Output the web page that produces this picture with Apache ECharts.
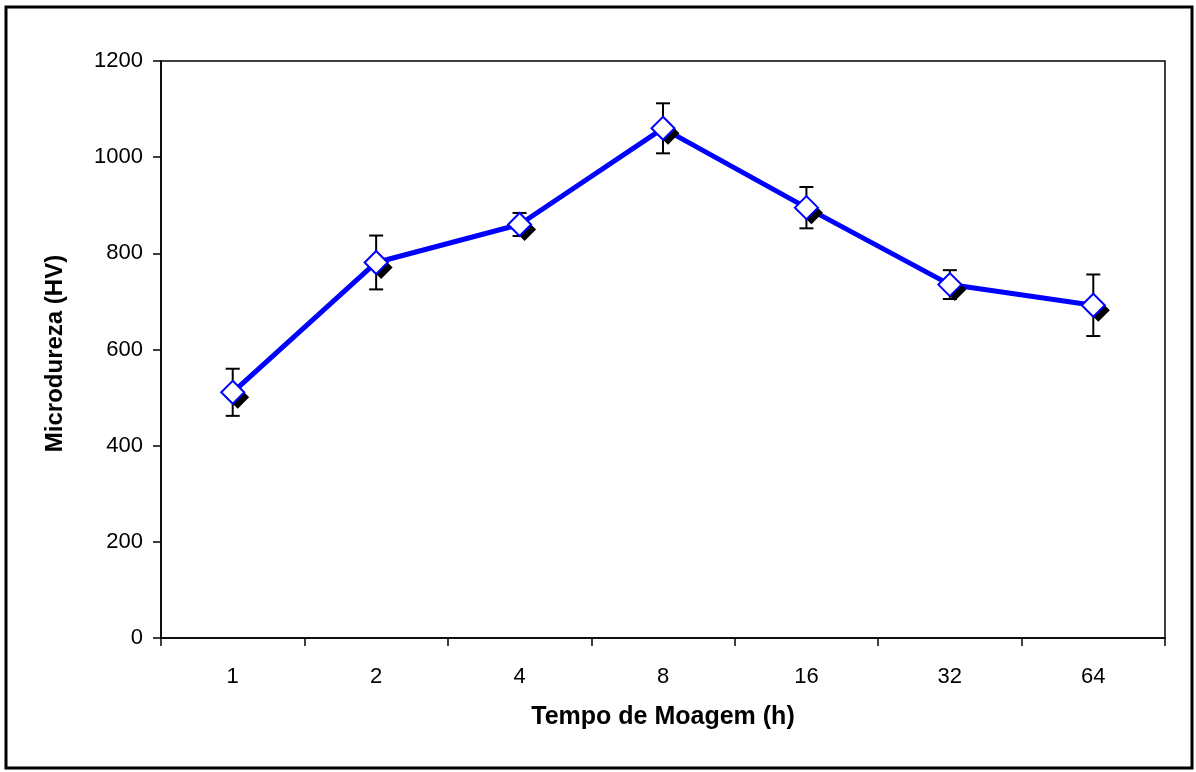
<!DOCTYPE html>
<html>
<head>
<meta charset="utf-8">
<script src="https://cdn.jsdelivr.net/npm/echarts@6/dist/echarts.min.js"></script>
<style>
  html, body { margin: 0; padding: 0; background: #fff; }
  #chart { width: 1196px; height: 772px; }
</style>
</head>
<body>
<div id="chart"></div>
<script>
// Milling time (h) and Vickers microhardness with standard deviation
const tempos = ['1', '2', '4', '8', '16', '32', '64'];
const microdureza = [511, 781, 860, 1060, 895, 735, 692];
const desvio = [49, 56, 24, 52, 43, 30, 64];
const yTicks = [0, 200, 400, 600, 800, 1000, 1200];

const errorData = tempos.map((t, i) => [i, microdureza[i] - desvio[i], microdureza[i] + desvio[i]]);

const chart = echarts.init(document.getElementById('chart'), null, { renderer: 'canvas' });

const font = '"Liberation Sans", Arial, sans-serif';

chart.setOption({
  animation: false,
  backgroundColor: '#fff',
  grid: { left: 161, right: 31, top: 61, bottom: 134, show: true, borderColor: '#000', borderWidth: 1.5, backgroundColor: 'transparent' },
  graphic: [{
    type: 'rect',
    shape: { x: 6, y: 7, width: 1186, height: 761 },
    style: { fill: 'none', stroke: '#000', lineWidth: 3 },
    silent: true
  }],
  xAxis: {
    type: 'category',
    data: tempos,
    boundaryGap: true,
    name: 'Tempo de Moagem (h)',
    nameLocation: 'middle',
    nameGap: 67,
    nameTextStyle: { fontFamily: font, fontSize: 25, fontWeight: 'bold', color: '#000' },
    axisLine: { lineStyle: { color: '#000', width: 1.5 } },
    axisTick: { show: true, length: 8, inside: false, lineStyle: { color: '#000', width: 1.5 } },
    axisLabel: { fontFamily: font, fontSize: 22, color: '#000', margin: 28 },
    splitLine: { show: false }
  },
  yAxis: {
    type: 'value',
    min: yTicks[0],
    max: yTicks[yTicks.length - 1],
    interval: yTicks[1] - yTicks[0],
    name: 'Microdureza (HV)',
    nameLocation: 'middle',
    nameGap: 94,
    nameRotate: 90,
    nameTextStyle: { fontFamily: font, fontSize: 24, fontWeight: 'bold', color: '#000', padding: [0, 8, 0, 0] },
    axisLine: { show: true, lineStyle: { color: '#000', width: 1.5 } },
    axisTick: { show: true, length: 8, inside: false, lineStyle: { color: '#000', width: 1.5 } },
    axisLabel: { fontFamily: font, fontSize: 22, color: '#000', margin: 18, formatter: v => String(v) },
    splitLine: { show: false }
  },
  series: [
    {
      // standard deviation bars
      type: 'custom',
      z: 1,
      data: errorData,
      renderItem: function (params, api) {
        const x = api.value(0);
        const lo = api.coord([x, api.value(1)]);
        const hi = api.coord([x, api.value(2)]);
        const cap = 7;
        const st = { stroke: '#000', lineWidth: 2 };
        return {
          type: 'group',
          children: [
            { type: 'line', shape: { x1: lo[0], y1: lo[1], x2: hi[0], y2: hi[1] }, style: st },
            { type: 'line', shape: { x1: lo[0] - cap, y1: lo[1], x2: lo[0] + cap, y2: lo[1] }, style: st },
            { type: 'line', shape: { x1: hi[0] - cap, y1: hi[1], x2: hi[0] + cap, y2: hi[1] }, style: st }
          ]
        };
      }
    },
    {
      type: 'line',
      z: 2,
      data: microdureza,
      symbol: 'none',
      lineStyle: { color: '#0000ff', width: 5 },
      emphasis: { disabled: true }
    },
    {
      // drop shadow behind each marker
      type: 'scatter',
      z: 3,
      data: microdureza,
      symbol: 'diamond',
      symbolSize: 23,
      symbolOffset: [5, 5],
      itemStyle: { color: '#000', opacity: 1 },
      emphasis: { disabled: true }
    },
    {
      type: 'scatter',
      z: 4,
      data: microdureza,
      symbol: 'diamond',
      symbolSize: 23,
      itemStyle: { color: '#ffffff', borderColor: '#0000ff', borderWidth: 2, opacity: 1 },
      emphasis: { disabled: true }
    }
  ]
});
</script>
</body>
</html>
